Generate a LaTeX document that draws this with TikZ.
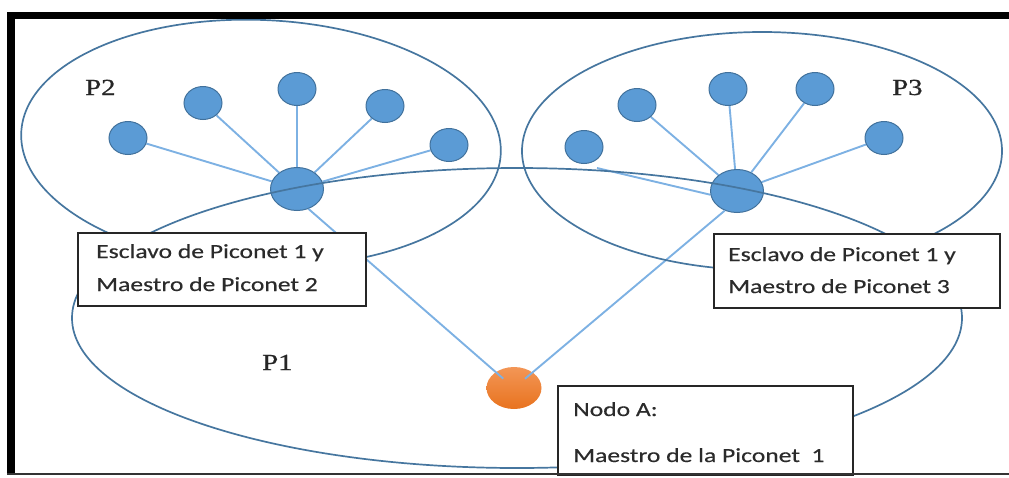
\documentclass[tikz,border=0pt]{standalone}
\usepackage{fontspec}
\setmainfont{Liberation Serif}
\newfontfamily\boxfont[FakeStretch=1.28,FakeBold=0.4]{Carlito}
\newfontfamily\labelfont[FakeStretch=1.25,FakeBold=0.8]{Liberation Serif}
\usetikzlibrary{shapes.geometric}
\definecolor{nodeblue}{HTML}{5B9BD5}
\definecolor{nodeedge}{HTML}{41719C}
\definecolor{linkblue}{HTML}{7DB1E3}
\definecolor{netline}{HTML}{46769F}
\definecolor{orangetop}{HTML}{F39656}
\definecolor{orangebot}{HTML}{E8731F}
\definecolor{boxtext}{HTML}{2B2B2B}
\pgfdeclarelayer{bg}
\pgfsetlayers{bg,main}

\begin{document}
\begin{tikzpicture}[x=1pt,y=-1pt,
  slave/.style={ellipse, draw=nodeedge, line width=1pt, fill=nodeblue,
                minimum width=38pt, minimum height=33pt, inner sep=0pt},
  master/.style={slave, minimum width=53pt, minimum height=43pt},
  link/.style={draw=linkblue, line width=1.9pt},
  piconet/.style={draw=netline, line width=1.7pt},
  infobox/.style={rectangle, draw=black!85, line width=1.6pt, fill=white, inner sep=0pt},
  boxline/.style={anchor=base west, inner sep=0pt, text=boxtext,
                  font=\boxfont\fontsize{20}{24}\selectfont},
  plabel/.style={anchor=base west, inner sep=0pt, text=black!85,
                 font=\labelfont\fontsize{23}{28}\selectfont},
]
\useasboundingbox (0,0) rectangle (1009,477);

% Piconet 2: master and its slaves
\node[slave] (a1) at (128,138) {};
\node[slave] (a2) at (203,103) {};
\node[slave] (a3) at (297,89) {};
\node[slave] (a4) at (385,106) {};
\node[slave] (a5) at (449,145) {};
\node[master] (M2) at (297,189) {};

% Piconet 3: master and its slaves
\node[slave] (b1) at (584,147) {};
\node[slave] (b2) at (637,105) {};
\node[slave] (b3) at (728,89) {};
\node[slave] (b4) at (815,89) {};
\node[slave] (b5) at (884,138) {};
\node[master] (M3) at (737,191) {};
\coordinate (b1tail) at (597,168);

% Node A, master of piconet 1
\node[ellipse, minimum width=55pt, minimum height=42pt, inner sep=0pt,
      top color=orangetop, bottom color=orangebot] (A) at (514,388) {};

% slave links behind the nodes
\begin{pgfonlayer}{bg}
  \foreach \s in {a1,a2,a3,a4,a5} \draw[link] (\s) -- (M2);
  \foreach \s in {b2,b3,b4,b5} \draw[link] (\s) -- (M3);
  \draw[link] (b1tail) -- (M3.188);
\end{pgfonlayer}

% links from the two bridge masters to node A
\draw[link, shorten >=-10pt] (M2.300) -- (A);
\draw[link, shorten >=-10pt] (M3.238) -- (A);

% piconet boundaries
\draw[piconet, rotate around={-2.5:(261,143)}] (261,143) ellipse [x radius=240pt, y radius=123pt];
\draw[piconet] (762,151) ellipse [x radius=240pt, y radius=119pt];
\draw[piconet] (517,318) ellipse [x radius=445pt, y radius=150pt];

% piconet names
\node[plabel] (p2) at (85,95) {P2};
\node[plabel] (p3) at (892,95) {P3};
\node[plabel] (p1) at (262,370) {P1};

% description boxes
\node[infobox, anchor=north west, minimum width=288pt, minimum height=73pt] (box2) at (77,232) {};
\node[boxline] (t2a) at (96,258) {Esclavo de Piconet 1 y};
\node[boxline] (t2b) at (96,291) {Maestro de Piconet 2};

\node[infobox, anchor=north west, minimum width=286pt, minimum height=74pt] (box3) at (713,233) {};
\node[boxline] (t3a) at (728,261) {Esclavo de Piconet 1 y};
\node[boxline] (t3b) at (728,293) {Maestro de Piconet 3};

\node[infobox, anchor=north west, minimum width=295pt, minimum height=89pt] (boxA) at (557,385) {};
\node[boxline] (tAa) at (573,416) {Nodo A:};
\node[boxline] (tAb) at (573,462) {Maestro de la Piconet\ \ 1};

% frame
\fill[black] (7,12) rectangle (1009,19);
\fill[black] (7,12) rectangle (15,475);
\draw[black!80, line width=2pt] (7,474) -- (1009,474);
\end{tikzpicture}
\end{document}
